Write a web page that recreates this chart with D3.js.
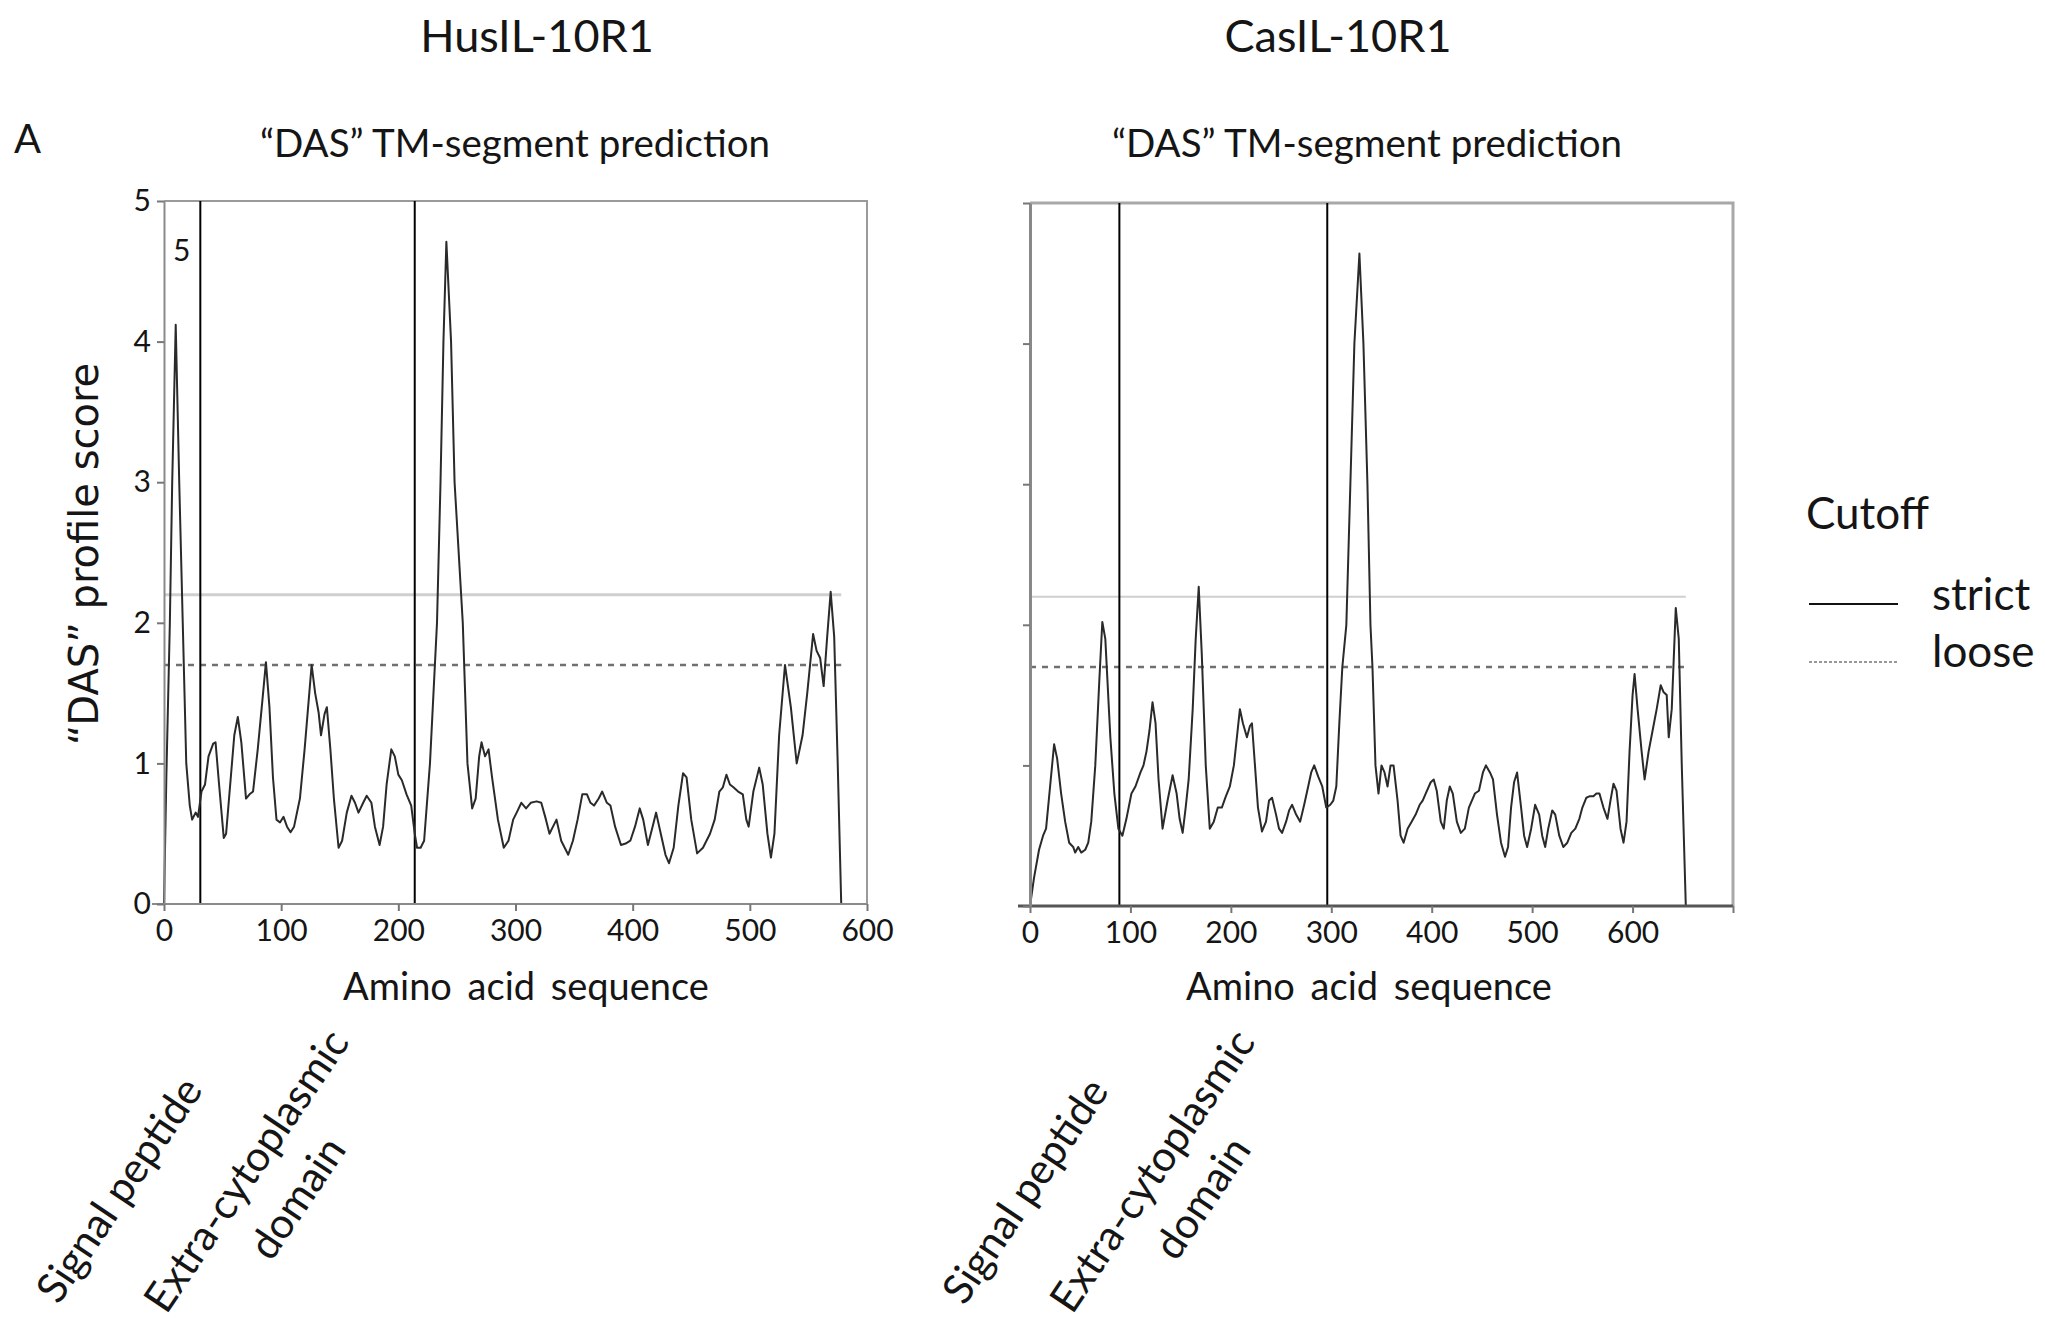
<!DOCTYPE html>
<html>
<head>
<meta charset="utf-8">
<script src="https://cdn.jsdelivr.net/npm/d3@7"></script>
<style>
  body { margin: 0; background: #fff; }
  text { font-family: Lato, "Open Sans", sans-serif; fill: #151515; }
</style>
</head>
<body>
<main></main>
<script>
// HusIL-10R1 DAS profile (amino acid position, score)
const husAA = [0,2,5,7,10,13,16,19,22,24,27,29,32,35,38,42,44,47,51,53,57,60,63,66,70,73,76,80,84,87,90,93,96,99,102,105,108,111,116,120,124,126,129,132,134,137,139,142,145,149,152,156,160,163,166,170,173,177,180,184,187,190,194,197,200,203,207,211,214,216,219,222,227,233,236,238.5,241,245,248,255,259,263,266,269,271,274,277,280,285,290,294,298,301,305,309,313,318,322,326,329,332,335,339,345,349,353,357,361,364,367,371,374,378,381,385,390,394,398,402,406,409,413,417,420,424,428,431,435,439,443,446,450,455,460,466,470,474,477,480,483,486,490,494,497,499,503,508,511,515,518,521,525,530,535,540,545,549,554,557,560,563,566,569,572,575,578];
const husScore = [0,0.9,2.0,3.0,4.12,3.0,2.0,1.0,0.7,0.6,0.65,0.62,0.8,0.85,1.05,1.14,1.15,0.85,0.47,0.5,0.9,1.2,1.33,1.15,0.75,0.78,0.8,1.1,1.45,1.72,1.4,0.9,0.6,0.58,0.62,0.55,0.51,0.55,0.75,1.1,1.5,1.7,1.5,1.36,1.2,1.35,1.4,1.1,0.75,0.4,0.45,0.65,0.77,0.72,0.65,0.72,0.77,0.72,0.55,0.42,0.55,0.85,1.1,1.05,0.92,0.88,0.78,0.7,0.5,0.4,0.4,0.45,1.0,2.0,3.0,4.0,4.71,4.0,3.0,2.0,1.0,0.68,0.75,1.05,1.15,1.05,1.1,0.9,0.6,0.4,0.45,0.6,0.65,0.72,0.68,0.72,0.73,0.72,0.6,0.5,0.55,0.6,0.45,0.35,0.45,0.6,0.78,0.78,0.72,0.7,0.75,0.8,0.72,0.7,0.55,0.42,0.43,0.45,0.55,0.68,0.6,0.42,0.55,0.65,0.5,0.35,0.29,0.4,0.7,0.93,0.9,0.6,0.36,0.4,0.5,0.6,0.8,0.83,0.92,0.85,0.83,0.8,0.78,0.6,0.55,0.8,0.97,0.85,0.5,0.33,0.5,1.2,1.7,1.4,1.0,1.2,1.5,1.92,1.8,1.75,1.55,1.9,2.22,1.9,1.0,0];

// CasIL-10R1 DAS profile
const casAA = [0,4,9,13,16,20,24,27,31,35,39,43,45,48,51,55,58,61,65,69,72,75,80,84,88,92,96,101,105,110,113,116,119,122,125,128,132,137,142,146,149,152,155,158,162,165,168,171,175,179,183,187,191,195,199,203,206,209,212,216,219,221,224,227,231,235,238,241,245,248,251,255,258,261,265,269,273,277,280,283,287,291,295,299,302,305,308,311,315,319,323,328,332,336,339,341,344,347,350,353,356,359,362,366,369,372,376,380,384,388,391,394,399,402,405,409,412,415,418,421,425,429,433,437,440,443,447,451,454,458,461,465,469,473,476,479,482,485,489,492,495,499,503,507,510,513,516,520,523,527,531,535,539,543,547,550,554,557,561,564,567,571,575,578,581,584,588,591,594,597,600,602,605,609,612,616,620,624,628,631,634,636,639,643,646,649,653];
const casScore = [0,0.2,0.4,0.5,0.55,0.85,1.15,1.05,0.8,0.6,0.45,0.42,0.38,0.42,0.38,0.4,0.45,0.6,1.0,1.6,2.02,1.9,1.2,0.8,0.55,0.5,0.62,0.8,0.85,0.95,1.0,1.1,1.25,1.45,1.3,0.9,0.55,0.75,0.93,0.8,0.62,0.52,0.7,0.9,1.4,1.9,2.27,1.8,1.0,0.55,0.6,0.7,0.7,0.78,0.85,1.0,1.2,1.4,1.3,1.2,1.28,1.3,1.0,0.7,0.53,0.6,0.75,0.77,0.65,0.55,0.52,0.6,0.68,0.72,0.65,0.6,0.72,0.85,0.95,1.0,0.92,0.85,0.7,0.72,0.75,0.85,1.3,1.7,2.0,3.0,4.0,4.64,4.0,3.0,2.0,1.7,1.0,0.8,1.0,0.95,0.85,1.0,1.0,0.75,0.5,0.45,0.55,0.6,0.65,0.72,0.75,0.8,0.88,0.9,0.82,0.6,0.55,0.75,0.85,0.8,0.6,0.52,0.55,0.7,0.75,0.8,0.82,0.95,1.0,0.95,0.9,0.65,0.45,0.35,0.42,0.7,0.88,0.95,0.7,0.5,0.42,0.55,0.72,0.65,0.5,0.42,0.55,0.68,0.65,0.5,0.42,0.45,0.52,0.55,0.62,0.7,0.77,0.78,0.78,0.8,0.8,0.7,0.62,0.75,0.87,0.82,0.55,0.45,0.6,1.1,1.5,1.65,1.4,1.1,0.9,1.1,1.25,1.4,1.57,1.52,1.5,1.2,1.4,2.12,1.9,1.0,0];

const husBounds = [31, 214];     // signal peptide end, extra-cytoplasmic domain end
const casBounds = [89, 296];
const strictCutoff = 2.2;
const looseCutoff = 1.7;
const yTicks = [0, 1, 2, 3, 4, 5];
const husXTicks = [0, 100, 200, 300, 400, 500, 600];
const casXTicks = [0, 100, 200, 300, 400, 500, 600, 700];

const w = 2045;
const h = 1329;
const svg = d3.select('main').append('svg').attr('width', w).attr('height', h)
    .style('background', '#fff');

const panels = [
    {title: 'HusIL-10R1', aa: husAA, score: husScore, bounds: husBounds, xTicks: husXTicks, xMax: 600,
     xr: [164, 867], yr: [904, 201], yLabels: true, titleX: 537, subX: 515, labX: 526,
     sig: [118, 1189], ext: [245, 1170], dom: [296, 1197], frame: '#9a9a9a', frameW: 2},
    {title: 'CasIL-10R1', aa: casAA, score: casScore, bounds: casBounds, xTicks: casXTicks, xMax: 700,
     xr: [1030, 1733], yr: [906, 203], yLabels: false, titleX: 1338, subX: 1367, labX: 1369,
     sig: [1024, 1190], ext: [1151, 1170], dom: [1201, 1197], frame: '#a8a8a8', frameW: 3}
];

panels.forEach(p => {
    const x = d3.scaleLinear().domain([0, p.xMax]).range(p.xr);
    const y = d3.scaleLinear().domain([0, 5]).range(p.yr);
    const g = svg.append('g');

    g.append('text').attr('x', p.titleX).attr('y', 52).attr('text-anchor', 'middle')
        .style('font-size', '45px').text(p.title);
    g.append('text').attr('x', p.subX).attr('y', 157).attr('text-anchor', 'middle')
        .style('font-size', '38.5px').text('\u201cDAS\u201d TM-segment prediction');

    // frame (top and right)
    g.append('path')
        .attr('d', `M${x(0)},${y(5)}H${x(p.xMax)}V${y(0)}`)
        .attr('fill', 'none').attr('stroke', p.frame).attr('stroke-width', p.frameW);

    // cutoffs
    const end = d3.max(p.aa);
    g.append('line').attr('x1', x(0)).attr('x2', x(end)).attr('y1', y(strictCutoff)).attr('y2', y(strictCutoff))
        .attr('stroke', '#cfcfcf').attr('stroke-width', p.yLabels ? 3 : 2);
    g.append('line').attr('x1', x(0)).attr('x2', x(end)).attr('y1', y(looseCutoff)).attr('y2', y(looseCutoff))
        .attr('stroke', '#707070').attr('stroke-width', 2.5).attr('stroke-dasharray', '6,6');

    // domain boundaries
    g.selectAll('.bound').data(p.bounds).enter().append('line')
        .attr('x1', d => x(d)).attr('x2', d => x(d)).attr('y1', y(0)).attr('y2', y(5))
        .attr('stroke', '#000').attr('stroke-width', 2);

    // profile
    const pts = p.aa.map((a, i) => [a, p.score[i]]);
    g.append('path').datum(pts)
        .attr('d', d3.line().x(d => x(d[0])).y(d => y(d[1])))
        .attr('fill', 'none').attr('stroke', '#2a2a2a').attr('stroke-width', 2)
        .attr('stroke-linejoin', 'round');

    const xAxis = d3.axisBottom(x).tickValues(p.xTicks).tickSize(7).tickSizeOuter(0).tickPadding(9)
        .tickFormat(d => d <= 600 ? d : '');
    const yAxis = d3.axisLeft(y).tickValues(yTicks).tickSize(7).tickSizeOuter(0).tickPadding(6)
        .tickFormat(d => p.yLabels ? d : '');
    const gx = g.append('g').attr('transform', `translate(0,${y(0)})`).call(xAxis);
    const gy = g.append('g').attr('transform', `translate(${x(0)},0)`).call(yAxis);
    gx.select('.domain').attr('stroke', p.yLabels ? '#8a8a8a' : '#555').attr('stroke-width', p.yLabels ? 2 : 3);
    gy.select('.domain').attr('stroke', p.yLabels ? '#8a8a8a' : '#888').attr('stroke-width', p.yLabels ? 2 : 3);
    [gx, gy].forEach(a => {
        a.selectAll('.tick line').attr('stroke', '#777').attr('stroke-width', 2);
        a.selectAll('.tick text').style('font-size', '30px').style('font-family', 'Lato, sans-serif').attr('fill', '#151515');
    });
    gx.select('.domain').attr('d', `M${x(0) - 12},0H${x(p.xMax)}`);

    g.append('text').attr('x', p.labX).attr('y', 1000).attr('text-anchor', 'middle')
        .style('font-size', '38px').style('word-spacing', '6px').text('Amino acid sequence');

    // rotated region labels
    [[p.sig, 'Signal peptide'], [p.ext, 'Extra-cytoplasmic'], [p.dom, 'domain']].forEach(([c, t]) => {
        g.append('text').attr('transform', `translate(${c[0]},${c[1]}) rotate(-56)`)
            .attr('text-anchor', 'middle').attr('dominant-baseline', 'central')
            .style('font-size', '42px').text(t);
    });
});

// panel letter and annotations
svg.append('text').attr('x', 14).attr('y', 153).style('font-size', '40px').text('A');
svg.append('text').attr('x', 173).attr('y', 261).style('font-size', '30px').text('5');

svg.append('text')
    .attr('transform', 'translate(98,554) rotate(-90)')
    .attr('text-anchor', 'middle')
    .style('font-family', '"DejaVu Sans", sans-serif').style('font-size', '40px')
    .text('\u201cDAS\u201d profile score');

// legend
const lg = svg.append('g');
lg.append('text').attr('x', 1806).attr('y', 529).style('font-size', '44px').text('Cutoff');
lg.append('line').attr('x1', 1809).attr('x2', 1898).attr('y1', 604).attr('y2', 604)
    .attr('stroke', '#111').attr('stroke-width', 2);
lg.append('text').attr('x', 1932).attr('y', 610).style('font-size', '44px').text('strict');
lg.append('line').attr('x1', 1809).attr('x2', 1898).attr('y1', 662).attr('y2', 662)
    .attr('stroke', '#333').attr('stroke-width', 1.2).attr('stroke-dasharray', '3,2');
lg.append('text').attr('x', 1932).attr('y', 667).style('font-size', '44px').text('loose');
</script>
</body>
</html>
